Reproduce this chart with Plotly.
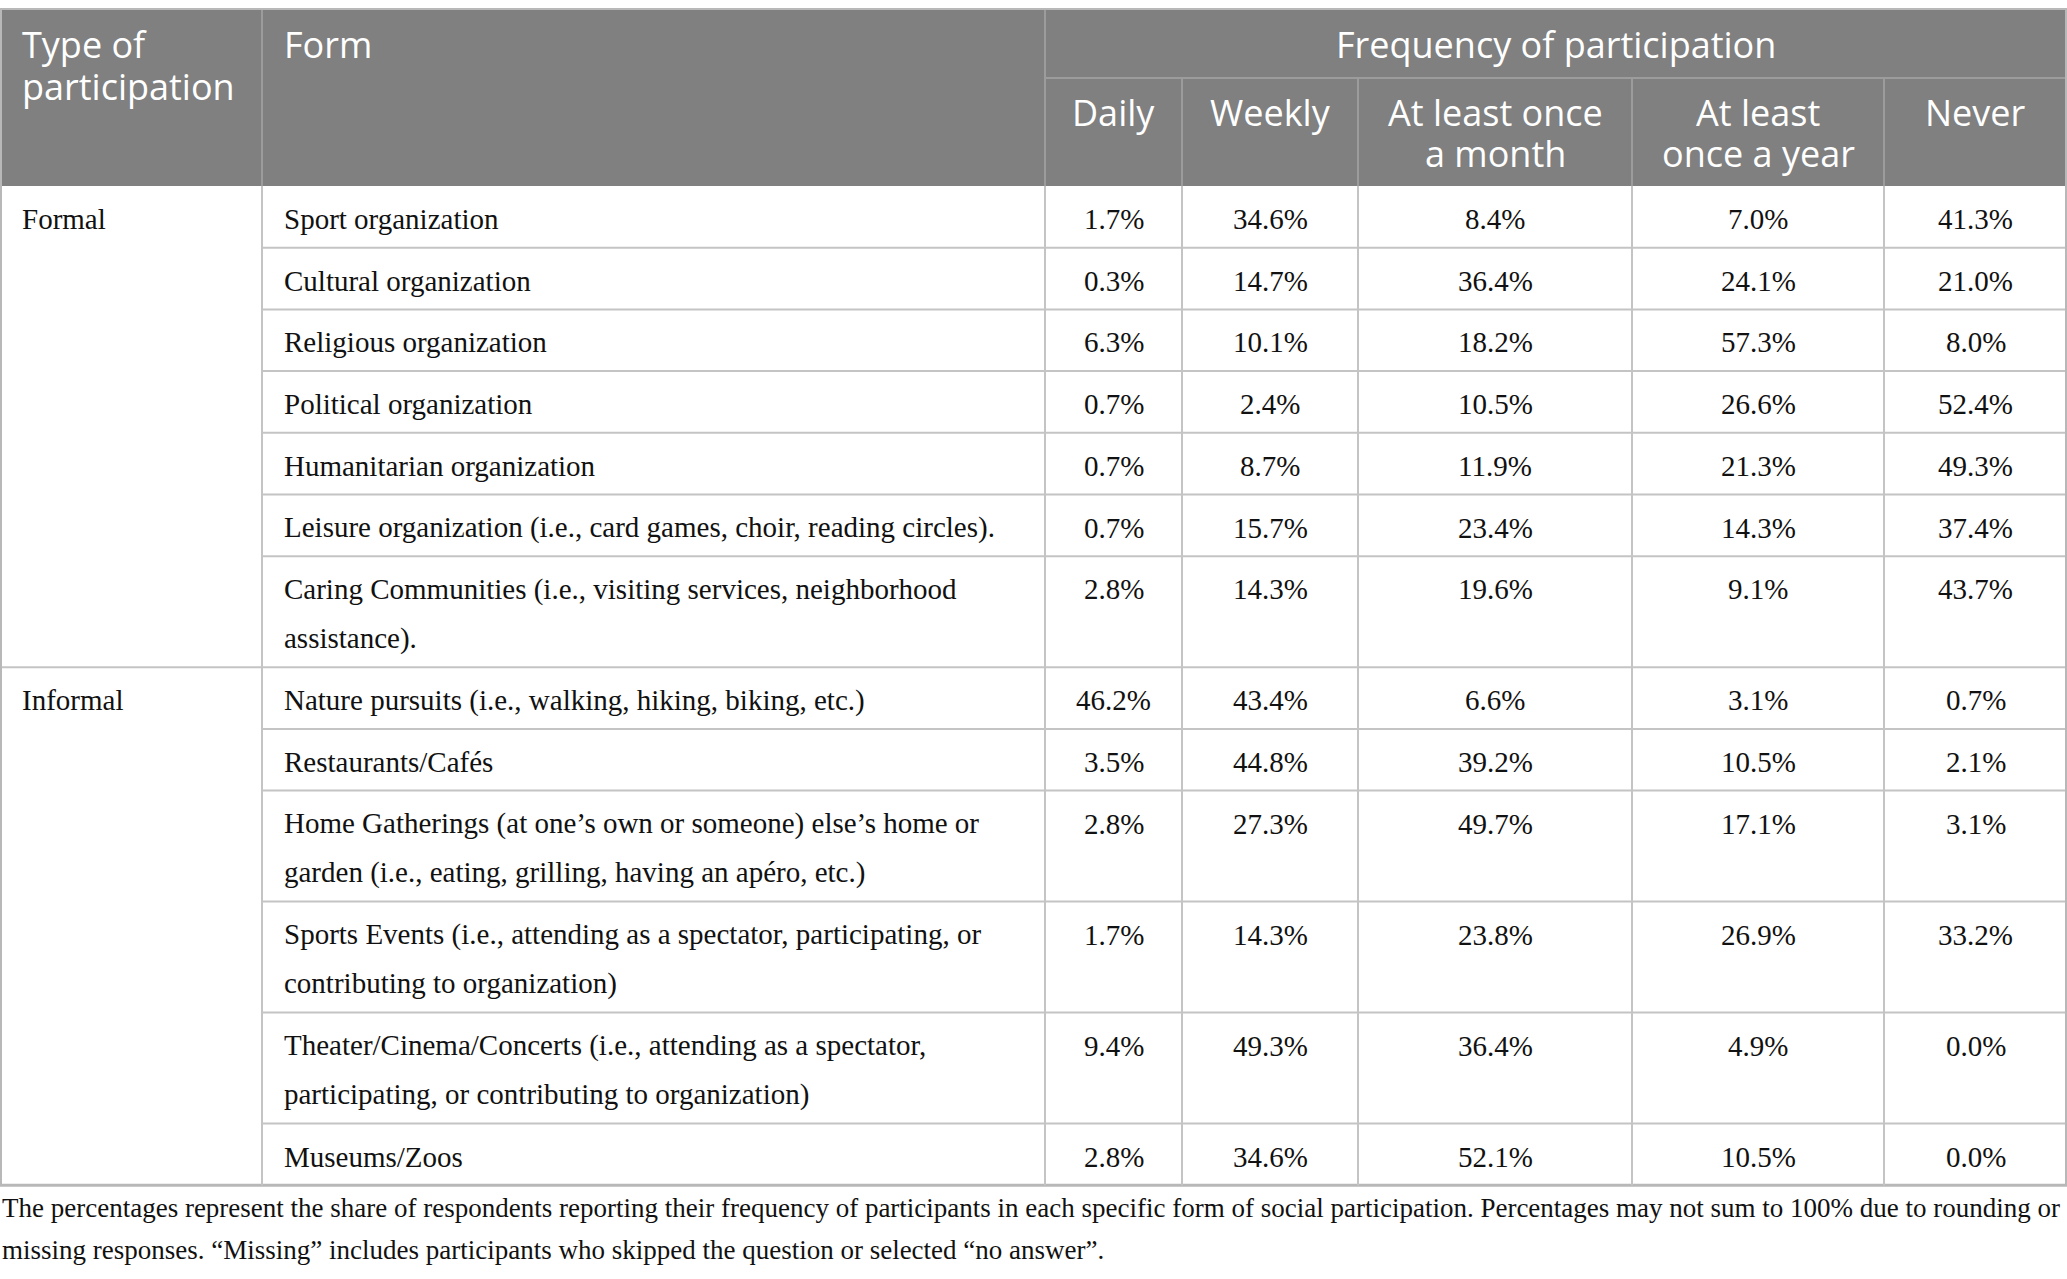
import plotly.graph_objects as go

# ---- data -----------------------------------------------------------------
participation_type = ["Formal"] * 7 + ["Informal"] * 6
forms = [
    "Sport organization",
    "Cultural organization",
    "Religious organization",
    "Political organization",
    "Humanitarian organization",
    "Leisure organization (i.e., card games, choir, reading circles).",
    "Caring Communities (i.e., visiting services, neighborhood<br>assistance).",
    "Nature pursuits (i.e., walking, hiking, biking, etc.)",
    "Restaurants/Cafés",
    "Home Gatherings (at one’s own or someone) else’s home or<br>garden (i.e., eating, grilling, having an apéro, etc.)",
    "Sports Events (i.e., attending as a spectator, participating, or<br>contributing to organization)",
    "Theater/Cinema/Concerts (i.e., attending as a spectator,<br>participating, or contributing to organization)",
    "Museums/Zoos",
]
frequency_labels = ["Daily", "Weekly", "At least once<br>a month", "At least<br>once a year", "Never"]
daily = [1.7, 0.3, 6.3, 0.7, 0.7, 0.7, 2.8, 46.2, 3.5, 2.8, 1.7, 9.4, 2.8]
weekly = [34.6, 14.7, 10.1, 2.4, 8.7, 15.7, 14.3, 43.4, 44.8, 27.3, 14.3, 49.3, 34.6]
monthly = [8.4, 36.4, 18.2, 10.5, 11.9, 23.4, 19.6, 6.6, 39.2, 49.7, 23.8, 36.4, 52.1]
yearly = [7.0, 24.1, 57.3, 26.6, 21.3, 14.3, 9.1, 3.1, 10.5, 17.1, 26.9, 4.9, 10.5]
never = [41.3, 21.0, 8.0, 52.4, 49.3, 37.4, 43.7, 0.7, 2.1, 3.1, 33.2, 0.0, 0.0]
note = [
    "The percentages represent the share of respondents reporting their frequency of participants in each specific form of social participation. Percentages may not sum to 100% due to rounding or",
    "missing responses. “Missing” includes participants who skipped the question or selected “no answer”.",
]

# ---- layout constants ------------------------------------------------------
W, H = 2067, 1279
col_w = [262, 783, 137, 176, 274, 252, 183]
col_x = [0]
for w in col_w:
    col_x.append(col_x[-1] + w)
TOP, SUB, HEAD_BOT = 9, 78, 186
ROW1, LINE = 61.7, 49.3
PAD = 20
HEAD_BG = "#7f807f"
HEAD_LINE = "#9c9c9c"
GRID = "#c4c4c4"
INK = "#111111"
SERIF = "Liberation Serif"
SANS = "Open Sans"
BODY_SIZE = 29
HEAD_SIZE = 36

fig = go.Figure()
shapes, annos = [], []


def text(x, y, s, size, family, color, anchor="left"):
    annos.append(dict(x=x, y=y, xref="x", yref="y", text=s, showarrow=False,
                      xanchor=anchor, yanchor="middle",
                      font=dict(family=family, size=size, color=color)))


def hline(x0, x1, y, color=GRID, width=2):
    shapes.append(dict(type="line", xref="x", yref="y", x0=x0, x1=x1, y0=y, y1=y,
                       line=dict(color=color, width=width)))


def vline(x, y0, y1, color=GRID, width=2):
    shapes.append(dict(type="line", xref="x", yref="y", x0=x, x1=x, y0=y0, y1=y1,
                       line=dict(color=color, width=width)))


# header block
shapes.append(dict(type="rect", xref="x", yref="y", x0=0, x1=W, y0=TOP, y1=HEAD_BOT,
                   fillcolor=HEAD_BG, line=dict(width=0), layer="below"))
hline(col_x[2], W, SUB, HEAD_LINE)
vline(col_x[1], TOP, HEAD_BOT, HEAD_LINE)
vline(col_x[2], TOP, HEAD_BOT, HEAD_LINE)
for cx in col_x[3:-1]:
    vline(cx, SUB, HEAD_BOT, HEAD_LINE)

text(PAD, 44, "Type of", HEAD_SIZE, SANS, "white")
text(PAD, 86, "participation", HEAD_SIZE, SANS, "white")
text(col_x[1] + PAD, 44, "Form", HEAD_SIZE, SANS, "white")
text((col_x[2] + W) / 2, 44, "Frequency of participation", HEAD_SIZE, SANS, "white", "center")
for j, lab in enumerate(frequency_labels):
    cx = (col_x[j + 2] + col_x[j + 3]) / 2
    for k, part in enumerate(lab.split("<br>")):
        text(cx, 112 + 41 * k, part, HEAD_SIZE, SANS, "white", "center")

# body rows
series = [daily, weekly, monthly, yearly, never]
y = HEAD_BOT
prev_type = None
for i, form in enumerate(forms):
    lines = form.split("<br>")
    h = ROW1 + LINE * (len(lines) - 1)
    first = y + 33
    if participation_type[i] != prev_type:
        if prev_type is not None:
            hline(0, W, y)
        text(PAD, first, participation_type[i], BODY_SIZE, SERIF, INK)
        prev_type = participation_type[i]
    elif i > 0:
        hline(col_x[1], W, y)
    for k, part in enumerate(lines):
        text(col_x[1] + PAD, first + LINE * k, part, BODY_SIZE, SERIF, INK)
    for j, s in enumerate(series):
        cx = (col_x[j + 2] + col_x[j + 3]) / 2
        text(cx, first, f"{s[i]:.1f}%", BODY_SIZE, SERIF, INK, "center")
    y += h
BOT = y
hline(0, W, BOT, "#b8b8b8", 3)
hline(0, W, TOP, "#b8b8b8", 2)
for cx in col_x[1:-1]:
    vline(cx, HEAD_BOT, BOT)
vline(1, TOP, BOT, "#b8b8b8")
vline(W - 1, TOP, BOT, "#b8b8b8")

for k, part in enumerate(note):
    text(0, BOT + 23 + 42 * k, part, BODY_SIZE - 2, SERIF, INK)

fig.update_layout(
    width=W, height=H, margin=dict(l=0, r=0, t=0, b=0),
    paper_bgcolor="white", plot_bgcolor="white",
    xaxis=dict(range=[0, W], visible=False, fixedrange=True),
    yaxis=dict(range=[H, 0], visible=False, fixedrange=True),
    shapes=shapes, annotations=annos, showlegend=False,
)
fig.write_html("out.html", config={"displayModeBar": False},
               post_script="document.body.style.margin='0';")
